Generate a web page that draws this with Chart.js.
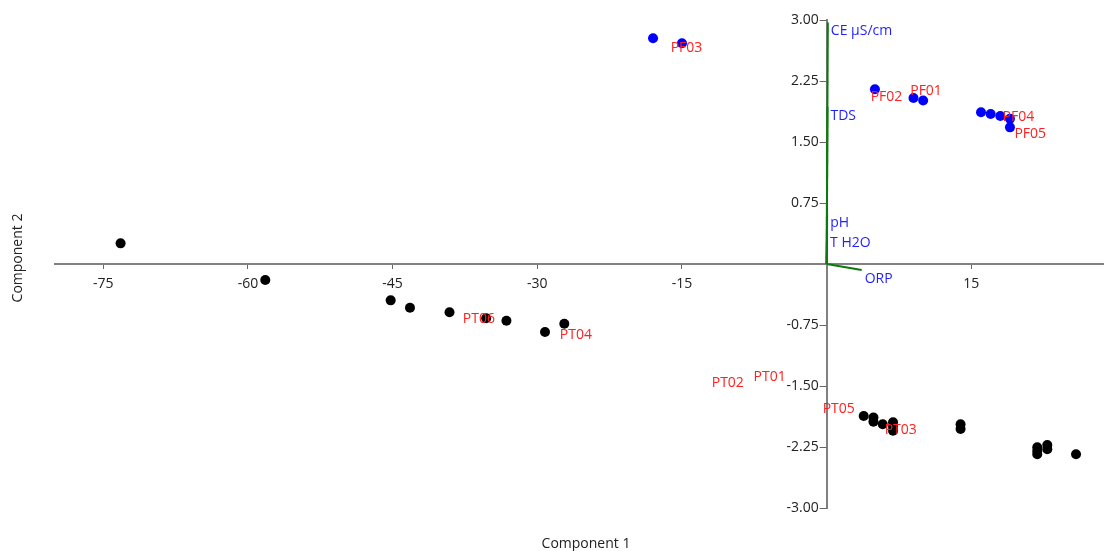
<!DOCTYPE html>
<html>
<head>
<meta charset="utf-8">
<script src="https://cdn.jsdelivr.net/npm/chart.js@4.4.0/dist/chart.umd.min.js"></script>
<style>
  html, body { margin: 0; padding: 0; background: #fff; }
  .contents { width: 1104px; height: 551px; }
</style>
</head>
<body>
<div class="contents"><canvas id="pca_chart" width="1104" height="551"></canvas></div>
<script>
// PF samples (blue)
const pfX = [-18.0, -15.0, 5.0, 9.0, 10.0, 16.0, 17.0, 18.0, 19.0, 19.0];
const pfY = [2.775, 2.714, 2.148, 2.04, 2.01, 1.865, 1.844, 1.82, 1.785, 1.68];

// PT samples (black)
const ptX = [-73.2, -58.2, -45.2, -43.2, -39.1, -35.3, -33.2, -29.2, -27.2,
  3.84, 4.85, 4.85, 5.81, 6.88, 6.88, 6.88, 13.88, 13.88, 21.83, 21.83, 21.83, 22.87, 22.87, 25.85];
const ptY = [0.254, -0.197, -0.447, -0.537, -0.594, -0.668, -0.697, -0.836, -0.734,
  -1.869, -1.887, -1.939, -1.971, -1.946, -1.998, -2.05, -1.971, -2.029, -2.254, -2.299, -2.34, -2.225, -2.278, -2.34];

// sample names
const sampleNames = ["PF03", "PF02", "PF01", "PF04", "PF05", "PT06", "PT04", "PT02", "PT01", "PT05", "PT03"];
const sampleX = [-14.53, 6.2, 10.3, 19.88, 21.1, -36.06, -26.0, -10.25, -5.92, 1.25, 7.68];
const sampleY = [2.652, 2.057, 2.133, 1.803, 1.594, -0.68, -0.873, -1.467, -1.393, -1.78, -2.04];

// variable loadings
const varNames = ["CE μS/cm", "TDS", "pH", "T H2O", "ORP"];
const varX = [0.12, 0.08, 0.05, 0.04, 3.63];
const varY = [2.97, 1.93, 0.62, 0.365, -0.075];

// ticks
const xTicks = [-75, -60, -45, -30, -15, 15];
const yTicks = [3, 2.25, 1.5, 0.75, -0.75, -1.5, -2.25, -3];

const FONT = "'Open Sans', 'Noto Sans', sans-serif";

const toPoints = (xs, ys) => xs.map((x, i) => ({ x: x, y: ys[i] }));

// 変数ベクトル
const vectorSets = varNames.map((name, i) => ({
  label: name,
  data: [{ x: 0, y: 0 }, { x: varX[i], y: varY[i] }],
  showLine: true,
  borderColor: "#0d7a0d",
  borderWidth: 2,
  pointRadius: 0,
  pointHoverRadius: 0,
  fill: false,
}));

// ラベル描画
const textPlugin = {
  id: "textPlugin",
  afterDatasetsDraw(chart) {
    const ctx = chart.ctx;
    const xs = chart.scales.x;
    const ys = chart.scales.y;
    const x0 = xs.getPixelForValue(0);
    ctx.save();
    ctx.font = "14px " + FONT;
    ctx.textBaseline = "middle";

    // y tick labels + tick marks (left of the axis)
    ctx.fillStyle = "#222";
    ctx.strokeStyle = "#666";
    ctx.lineWidth = 1;
    ctx.textAlign = "right";
    yTicks.forEach((v) => {
      const py = Math.round(ys.getPixelForValue(v)) + 0.5;
      ctx.beginPath();
      ctx.moveTo(x0 - 7, py);
      ctx.lineTo(x0, py);
      ctx.stroke();
      ctx.fillText(v.toFixed(2), x0 - 8, py);
    });

    ctx.fillStyle = "#1f1fff";
    ctx.textAlign = "left";
    varNames.forEach((name, i) => {
      ctx.fillText(name, xs.getPixelForValue(varX[i]) + 3, ys.getPixelForValue(varY[i]) + 9);
    });

    ctx.fillStyle = "#ff2020";
    ctx.textAlign = "center";
    sampleNames.forEach((name, i) => {
      ctx.fillText(name, xs.getPixelForValue(sampleX[i]), ys.getPixelForValue(sampleY[i]));
    });

    // axis titles
    ctx.fillStyle = "#222";
    ctx.fillText("Component 1", 586, 544);
    ctx.translate(18, 258);
    ctx.rotate(-Math.PI / 2);
    ctx.fillText("Component 2", 0, 0);
    ctx.restore();
  },
};

let context = document.querySelector("#pca_chart").getContext("2d");
new Chart(context, {
  type: "scatter",
  data: {
    datasets: [
      {
        label: "PF",
        data: toPoints(pfX, pfY),
        backgroundColor: "#0000ff",
        borderWidth: 0,
        pointRadius: 5,
        pointHoverRadius: 5,
      },
      {
        label: "PT",
        data: toPoints(ptX, ptY),
        backgroundColor: "#000000",
        borderWidth: 0,
        pointRadius: 5,
        pointHoverRadius: 5,
      },
      ...vectorSets,
    ],
  },
  options: {
    responsive: false,
    animation: false,
    layout: {
      autoPadding: false,
      padding: { left: 55, right: 0, top: 20, bottom: 43 },
    },
    scales: {
      x: {
        type: "linear",
        min: -80,
        max: 28.75,
        position: { y: 0 },
        afterBuildTicks: (scale) => {
          scale.ticks = xTicks.map((v) => ({ value: v }));
        },
        grid: { display: true, drawOnChartArea: false, drawTicks: true, tickLength: 4, tickColor: "#666" },
        border: { display: true, color: "#808080", width: 2 },
        ticks: { color: "#222", padding: 8, font: { size: 14, family: FONT }, maxRotation: 0 },
      },
      y: {
        type: "linear",
        min: -3,
        max: 3,
        position: { x: 0 },
        afterBuildTicks: (scale) => {
          scale.ticks = yTicks.map((v) => ({ value: v }));
        },
        grid: { display: false },
        border: { display: true, color: "#808080", width: 2 },
        ticks: { display: false },
      },
    },
    plugins: {
      legend: { display: false },
      tooltip: { enabled: false },
    },
  },
  plugins: [textPlugin],
});
</script>
</body>
</html>
